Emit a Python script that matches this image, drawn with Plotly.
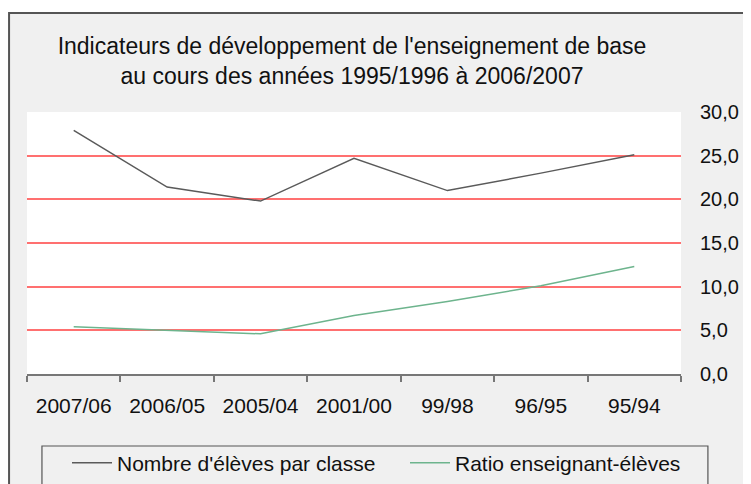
import plotly.graph_objects as go

categories = ["2007/06", "2006/05", "2005/04", "2001/00", "99/98", "96/95", "95/94"]
eleves_par_classe = [27.9, 21.4, 19.8, 24.7, 21.0, 23.0, 25.1]
ratio_ens_eleves = [5.4, 5.0, 4.6, 6.7, 8.3, 10.1, 12.3]
y_ticks = [0, 5, 10, 15, 20, 25, 30]

FONT = "Liberation Sans, Arial, sans-serif"

# figure is drawn inside a page whose body has an 8px margin
W, H = 743, 476
L, R, T, B = 19, 68, 104, 110
PW, PH = W - L - R, H - T - B


def px(x):
    return (x - L) / PW


def py(y):
    return (H - B - y) / PH


fig = go.Figure()
fig.add_trace(go.Scatter(x=categories, y=eleves_par_classe, mode="lines",
                         name="Nombre d'élèves par classe", legend="legend",
                         line=dict(color="#5a5a5a", width=1.5)))
fig.add_trace(go.Scatter(x=categories, y=ratio_ens_eleves, mode="lines",
                         name="Ratio enseignant-élèves", legend="legend2",
                         line=dict(color="#6db48d", width=1.5)))

legend_common = dict(orientation="h", xref="container", yref="container",
                     xanchor="left", y=1 - 455 / H, yanchor="middle",
                     bgcolor="rgba(0,0,0,0)", borderwidth=0,
                     font=dict(family=FONT, size=21, color="#111111"),
                     itemwidth=40)

fig.update_layout(
    width=W, height=H,
    margin=dict(l=L, r=R, t=T, b=B),
    paper_bgcolor="white",
    plot_bgcolor="white",
    separators=", ",
    font=dict(family=FONT, size=20, color="#111111"),
    title=dict(text="Indicateurs de développement de l'enseignement de base<br>au cours des années 1995/1996 à 2006/2007",
               xref="container", yref="container",
               x=344 / W, xanchor="center", y=1 - 46 / H, yanchor="middle",
               font=dict(family=FONT, size=23, color="#111111")),
    showlegend=True,
    legend=dict(x=59 / W, **legend_common),
    legend2=dict(x=397 / W, **legend_common),
    shapes=[
        dict(type="rect", xref="paper", yref="paper",
             x0=px(1), x1=px(W + 20), y0=py(H + 20), y1=py(5),
             fillcolor="#f0f0f0", line=dict(color="#555555", width=2), layer="below"),
        dict(type="rect", xref="paper", yref="paper",
             x0=0, x1=1, y0=0, y1=1,
             fillcolor="white", line=dict(width=0), layer="below"),
        dict(type="rect", xref="paper", yref="paper",
             x0=px(34), x1=px(702), y0=py(H + 20), y1=py(438),
             fillcolor="rgba(0,0,0,0)", line=dict(color="#555555", width=1.2), layer="above"),
    ],
)

fig.update_xaxes(
    type="category", range=[-0.5, 6.5], showgrid=False, zeroline=False,
    showline=True, linecolor="#777777", linewidth=1.5,
    ticks="outside", tickson="boundaries", ticklen=6, tickcolor="#777777", tickwidth=1.5,
    ticklabelstandoff=12,
    tickfont=dict(family=FONT, size=21, color="#111111"),
)
fig.update_yaxes(
    side="right", range=[0, 30], tickvals=y_ticks, tickformat=".1f",
    showgrid=True, gridcolor="#ff7070", gridwidth=1.6,
    zeroline=False, showline=False, ticks="",
    ticklabelstandoff=18,
    tickfont=dict(family=FONT, size=20, color="#111111"),
)

fig.write_html("out.html")
